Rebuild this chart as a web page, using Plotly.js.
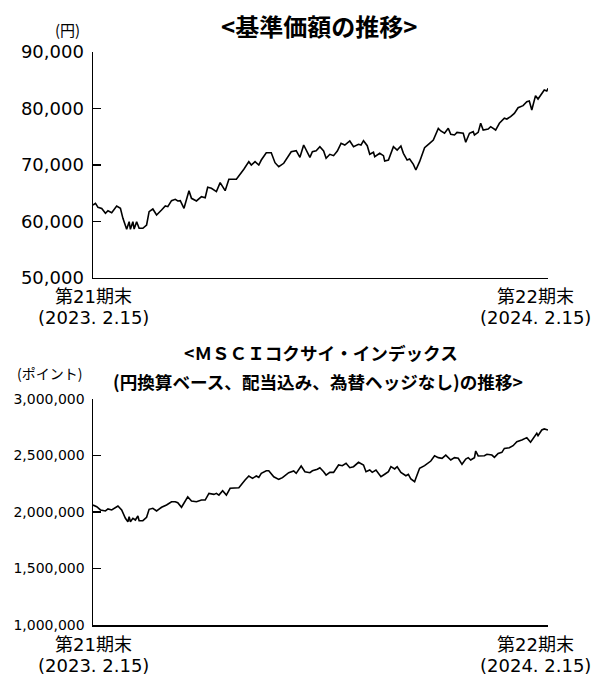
<!DOCTYPE html>
<html>
<head>
<meta charset="utf-8">
<script src="https://cdn.plot.ly/plotly-3.0.1.min.js"></script>
<style>
html,body{margin:0;padding:0;background:#fff;}
#chart{width:595px;height:677px;}
</style>
</head>
<body>
<div id="chart"></div>
<script>
// 基準価額 (days since 2023-02-15, yen)
const navDays = [0,2,4,7,10,12,15,19,22,24,27,29,30,32,33,35,37,40,43,45,48,51,55,58,60,63,66,68,70,73,77,79,83,87,90,92,95,99,102,106,109,115,121,125,127,130,133,135,139,143,146,149,153,157,159,163,166,169,171,174,176,179,182,185,187,190,193,196,199,202,206,209,213,215,217,220,222,225,226,230,233,234,237,241,244,247,249,252,254,257,259,262,266,268,270,273,277,279,282,285,287,290,292,297,299,302,305,306,309,311,313,317,319,323,326,330,332,335,338,341,345,348,350,352,355,357,360,362,364,365];
const navValues = [62920,63200,62500,62300,61450,61900,61560,62740,62330,60560,58620,59970,58620,59970,58670,59970,58800,58800,59380,61740,62210,61150,62040,62740,62620,63690,63930,63630,63690,62330,65450,64100,63630,64390,64210,66050,65870,65280,66870,65450,67470,67470,69240,70590,70000,70590,70000,70880,72180,72180,70410,69700,70300,71590,72350,72530,71360,73540,72650,71360,72350,72530,73240,72480,71180,71890,71650,72480,73840,73540,74250,73240,73660,73540,74300,73420,71890,72250,71470,72070,71650,70710,70880,73240,72650,73360,72070,70880,71060,70120,69120,70590,73060,73540,73840,74420,76490,76020,75610,76490,75430,75310,75780,75610,74020,75610,75900,75310,75780,77380,76190,76370,76780,76190,77380,78270,78140,78550,79140,80140,80500,81200,81330,79730,82270,81680,82510,83270,83100,83570];

// MSCIコクサイ・インデックス (円換算ベース、配当込み、為替ヘッジなし)
const idxDays = [0,3,6,10,12,15,20,23,26,28,29,30,32,34,36,37,40,43,45,48,51,55,59,63,66,68,71,76,79,83,87,90,93,97,99,101,104,107,110,117,122,125,128,131,133,135,139,141,145,149,152,157,161,163,167,170,174,176,180,182,185,187,190,193,197,200,203,206,209,213,217,219,222,224,227,231,234,237,239,242,244,247,251,253,255,258,259,262,266,269,271,274,277,280,283,287,290,293,296,299,301,303,306,307,309,314,316,320,322,325,328,330,334,337,340,344,348,351,354,356,357,360,362,365];
const idxValues = [2062000,2047000,2018000,2009000,2027000,2018000,2053000,2018000,1944000,1914000,1959000,1914000,1944000,1929000,1965000,1923000,1923000,1953000,2024000,2033000,2009000,2042000,2062000,2091000,2091000,2082000,2042000,2135000,2097000,2091000,2106000,2106000,2165000,2156000,2165000,2150000,2189000,2150000,2210000,2215000,2283000,2319000,2298000,2319000,2307000,2342000,2365000,2365000,2312000,2289000,2304000,2348000,2363000,2342000,2407000,2357000,2348000,2365000,2378000,2392000,2357000,2327000,2351000,2351000,2416000,2410000,2431000,2392000,2401000,2440000,2416000,2357000,2372000,2351000,2372000,2312000,2334000,2357000,2401000,2381000,2401000,2351000,2321000,2334000,2292000,2268000,2298000,2387000,2410000,2431000,2451000,2498000,2481000,2475000,2504000,2460000,2481000,2475000,2422000,2469000,2481000,2460000,2481000,2540000,2496000,2498000,2511000,2504000,2484000,2519000,2528000,2563000,2569000,2587000,2622000,2637000,2658000,2617000,2667000,2696000,2675000,2726000,2735000,2726000];

const xTickVals = [0, 365];
const xTickLine1 = ["第21期末", "第22期末"];
const xTickLine2 = ["(2023. 2.15)", "(2024. 2.15)"];
const navTicks = [50000, 60000, 70000, 80000, 90000];
const navTickText = ["50,000", "60,000", "70,000", "80,000", "90,000"];
const idxTicks = [1000000, 1500000, 2000000, 2500000, 3000000];
const idxTickText = ["1,000,000", "1,500,000", "2,000,000", "2,500,000", "3,000,000"];

const CJK = '"Noto Sans CJK JP", "Noto Sans", sans-serif';
const NUM = '"DejaVu Sans", "Noto Sans CJK JP", sans-serif';

const traces = [
  {x: navDays, y: navValues, type: 'scatter', mode: 'lines', xaxis: 'x', yaxis: 'y',
   line: {color: '#000', width: 1.6}, hoverinfo: 'skip'},
  {x: idxDays, y: idxValues, type: 'scatter', mode: 'lines', xaxis: 'x2', yaxis: 'y2',
   line: {color: '#000', width: 1.6}, hoverinfo: 'skip'}
];

function xAxis(anchor) {
  return {
    anchor: anchor, range: [0, 365], showgrid: false, zeroline: false,
    showline: true, linecolor: '#000', linewidth: 1.5,
    tickmode: 'array', tickvals: xTickVals, ticktext: ['', ''],
    ticks: 'inside', ticklen: 7, tickwidth: 1.5, tickcolor: '#000'
  };
}
function yAxis(anchor, domain, range, tv, tt, font) {
  return {
    anchor: anchor, domain: domain, range: range, showgrid: false, zeroline: false,
    showline: true, linecolor: '#000', linewidth: 1.5,
    tickmode: 'array', tickvals: tv, ticktext: tt,
    ticks: 'inside', ticklen: 8, tickwidth: 1.5, tickcolor: '#000',
    ticklabelstandoff: 4,
    tickfont: font
  };
}

const annotations = [
  {text: '<b>&lt;基準価額の推移&gt;</b>', xref: 'paper', yref: 'paper', x: 0.4978, y: 1.0454,
   xanchor: 'center', yanchor: 'middle', showarrow: false, font: {family: CJK, size: 24, color: '#000'}},
  {text: '(円)', xref: 'paper', yref: 'paper', x: -0.055, y: 1.0384,
   xanchor: 'center', yanchor: 'middle', showarrow: false, font: {family: CJK, size: 15, color: '#000'}},
  {text: '<b>&lt;ＭＳＣＩコクサイ・インデックス</b>', xref: 'paper', yref: 'paper', x: 0.502, y: 0.4747,
   xanchor: 'center', yanchor: 'middle', showarrow: false, font: {family: CJK, size: 17.6, color: '#000'}},
  {text: '<b>(円換算ベース、配当込み、為替ヘッジなし)の推移&gt;</b>', xref: 'paper', yref: 'paper', x: 0.4956, y: 0.4258,
   xanchor: 'center', yanchor: 'middle', showarrow: false, font: {family: CJK, size: 17.6, color: '#000'}},
  {text: '(ポイント)', xref: 'paper', yref: 'paper', x: -0.0967, y: 0.4398,
   xanchor: 'center', yanchor: 'middle', showarrow: false, font: {family: CJK, size: 14, color: '#000'}}
];
// x-axis period labels (two lines), one per tick, for both panels
[['x', 'y'], ['x2', 'y2']].forEach(function (ax) {
  xTickVals.forEach(function (v, i) {
    const last = i === xTickVals.length - 1;
    [xTickLine1[i], xTickLine2[i]].forEach(function (t, j) {
      annotations.push({
        text: t, xref: ax[0], yref: ax[1] + ' domain', x: v, y: 0,
        xanchor: last ? 'right' : 'center', yanchor: 'middle',
        xshift: last ? (j === 0 ? 28 : 45) : 0, yshift: j === 0 ? -19 : -40,
        showarrow: false, font: {family: NUM, size: 18, color: '#000'}
      });
    });
  });
});

const layout = {
  width: 595, height: 677,
  margin: {l: 93, r: 47, t: 52, b: 52},
  paper_bgcolor: '#fff', plot_bgcolor: '#fff',
  showlegend: false,
  font: {family: CJK, color: '#000'},
  xaxis: xAxis('y'),
  yaxis: yAxis('x', [0.6056, 1], [50000, 90000], navTicks, navTickText, {family: NUM, size: 18, color: '#000'}),
  xaxis2: xAxis('y2'),
  yaxis2: yAxis('x2', [0, 0.3944], [1000000, 3000000], idxTicks, idxTickText, {family: NUM, size: 14, color: '#000'}),
  annotations: annotations
};

Plotly.newPlot('chart', traces, layout, {staticPlot: true, displayModeBar: false});
</script>
</body>
</html>
